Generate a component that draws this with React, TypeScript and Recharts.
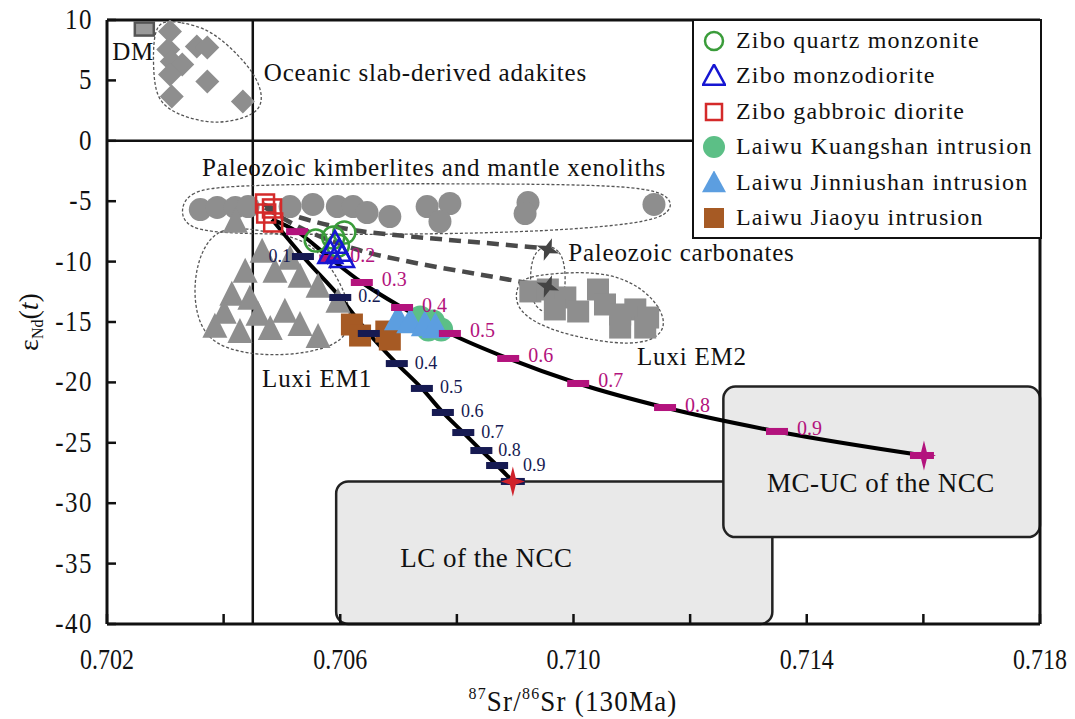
import React from 'react'
import {
  ComposedChart,
  Line,
  Scatter,
  XAxis,
  YAxis,
  ReferenceLine,
  ReferenceArea,
} from 'recharts'

const SERIF = '"Liberation Serif", "Times New Roman", Times, serif'
const NAVY = '#161a52'
const MAGENTA = '#b3137d'
const GRAY = '#8e8e8e'

// axes
const xTicks = [0.702, 0.704, 0.706, 0.708, 0.71, 0.712, 0.714, 0.716, 0.718]
const xTickLabels = ['0.702', '', '0.706', '', '0.710', '', '0.714', '', '0.718']
const yTicks = [-40, -35, -30, -25, -20, -15, -10, -5, 0, 5, 10]

// depleted mantle
const dmX = [0.70264]
const dmY = [9.25]

// oceanic slab-derived adakites
const adakiteX = [0.70308, 0.70354, 0.70372, 0.70305, 0.70311, 0.70329, 0.70308, 0.70372, 0.70311, 0.70433]
const adakiteY = [9.05, 7.81, 7.72, 7.56, 6.57, 6.32, 5.49, 4.91, 3.67, 3.25]
const adakiteEnvX = [0.70291, 0.70325, 0.70377, 0.70428, 0.70456, 0.70468, 0.70459, 0.70416, 0.70372, 0.70318, 0.70284, 0.70279, 0.7028]
const adakiteEnvY = [9.95, 9.85, 9.25, 7.0, 5.3, 3.6, 2.3, 1.6, 1.45, 2.2, 3.4, 6.15, 8.7]

// Paleozoic kimberlites and mantle xenoliths
const kimbX = [0.7036, 0.70389, 0.7042, 0.70442, 0.70514, 0.70553, 0.70595, 0.70622, 0.70646, 0.70685, 0.70749, 0.70788, 0.70771, 0.70922, 0.70917, 0.71138]
const kimbY = [-5.69, -5.52, -5.52, -5.44, -5.44, -5.27, -5.44, -5.44, -5.94, -6.27, -5.44, -5.19, -6.68, -5.11, -6.02, -5.27]
const kimbEnvX = [0.70326, 0.7034, 0.70394, 0.70617, 0.70874, 0.71114, 0.71168, 0.71168, 0.71126, 0.7096, 0.70737, 0.70531, 0.70374, 0.70334]
const kimbEnvY = [-5.69, -4.3, -3.7, -3.55, -3.55, -3.7, -4.6, -5.9, -6.8, -7.5, -7.75, -7.75, -7.65, -6.95]

// Luxi EM1
const em1X = [0.7042, 0.70466, 0.70514, 0.70437, 0.70488, 0.70531, 0.70562, 0.70596, 0.70414, 0.70445, 0.70401, 0.70459, 0.70505, 0.7048, 0.70428, 0.70531, 0.70562, 0.70385]
const em1Y = [-6.93, -9.41, -9.99, -11.07, -11.07, -11.48, -12.31, -13.55, -12.97, -13.3, -14.46, -14.63, -14.38, -15.79, -16.04, -15.46, -16.46, -15.62]
const em1EnvX = [0.70402, 0.70366, 0.70348, 0.70353, 0.70383, 0.70462, 0.70548, 0.7061, 0.7062, 0.70603, 0.70567, 0.70531, 0.70462]
const em1EnvY = [-7.05, -8.5, -11.48, -14.79, -17.0, -17.85, -17.6, -16.55, -14.38, -11.89, -9.3, -8.05, -7.4]

// Luxi EM2
const em2X = [0.70926, 0.70956, 0.70986, 0.70968, 0.71008, 0.71042, 0.71054, 0.7108, 0.71106, 0.71128, 0.7108, 0.71123]
const em2Y = [-12.47, -12.31, -12.97, -13.96, -14.13, -12.31, -13.55, -14.38, -13.96, -14.63, -15.46, -15.46]
const em2EnvX = [0.70931, 0.71046, 0.71116, 0.71156, 0.71156, 0.71102, 0.70989, 0.70923, 0.70898, 0.70905]
const em2EnvY = [-11.1, -10.7, -12.0, -14.21, -16.1, -17.05, -16.15, -14.85, -13.38, -11.65]

// Paleozoic carbonates
const carbX = [0.70956, 0.70956]
const carbY = [-9.0, -12.06]
const carbEnvX = [0.70956, 0.70977, 0.70986, 0.70986, 0.70977, 0.70956, 0.70935, 0.70926, 0.70926, 0.70935]
const carbEnvY = [-8.6, -9.1, -10.4, -12.5, -13.85, -14.35, -13.85, -12.5, -10.4, -9.1]

// mixing toward Paleozoic carbonates (dashed)
const carbMixUpX = [0.70468, 0.70531, 0.70617, 0.70703, 0.7084, 0.70955]
const carbMixUpY = [-5.27, -6.35, -7.34, -7.84, -8.42, -8.92]
const carbMixLoX = [0.70471, 0.70531, 0.70629, 0.70725, 0.7084, 0.70955]
const carbMixLoY = [-5.52, -7.18, -9.0, -10.07, -11.07, -12.06]

// mixing with LC of the NCC (start, 0.1 ... 0.9, end)
const lcMixX = [0.70483, 0.70536, 0.706, 0.70649, 0.70697, 0.7074, 0.70776, 0.70811, 0.70842, 0.70869, 0.70896]
const lcMixY = [-6.51, -9.58, -12.97, -15.95, -18.44, -20.5, -22.49, -24.15, -25.64, -26.88, -28.2]
const lcTickLabels = ['0.1', '0.2', '', '0.4', '0.5', '0.6', '0.7', '0.8', '0.9']

// mixing with MC-UC of the NCC
const mcMixX = [0.70483, 0.70526, 0.70583, 0.70637, 0.70706, 0.70788, 0.70888, 0.71008, 0.71157, 0.71349, 0.71601]
const mcMixY = [-6.51, -7.52, -9.74, -11.73, -13.8, -15.95, -18.02, -20.09, -22.08, -24.06, -26.05]
const mcTickLabels = ['', '0.2', '0.3', '0.4', '0.5', '0.6', '0.7', '0.8', '0.9']

// crustal fields
const lcBoxX = [0.70593, 0.71341]
const lcBoxY = [-40, -28.2]
const mcBoxX = [0.71257, 0.718]
const mcBoxY = [-32.8, -20.34]

// this study and Laiwu intrusions
const zqmX = [0.70558, 0.70588, 0.70607, 0.70596]
const zqmY = [-8.26, -8.01, -7.59, -8.67]
const zmdX = [0.70591, 0.70598, 0.70583, 0.70603]
const zmdY = [-8.67, -9.33, -9.5, -9.83]
const zgdX = [0.70471, 0.70483, 0.70473, 0.70485]
const zgdY = [-5.19, -5.6, -6.02, -6.76]
const kuangX = [0.70737, 0.70759, 0.70773, 0.70751]
const kuangY = [-14.63, -14.96, -15.62, -15.62]
const jinX = [0.70699, 0.7072, 0.70745, 0.70763]
const jinY = [-14.96, -15.21, -15.46, -15.62]
const jiaoX = [0.7062, 0.70634, 0.70679, 0.70685]
const jiaoY = [-15.21, -16.12, -15.79, -16.45]

// field labels (left end of baseline)
const noteText = ['DM', 'Oceanic slab-derived adakites', 'Paleozoic kimberlites and mantle xenoliths', 'Paleozoic carbonates', 'Luxi EM2', 'Luxi EM1']
const noteX = [0.70209, 0.70469, 0.70363, 0.70991, 0.71109, 0.70466]
const noteY = [6.73, 4.91, -2.95, -9.99, -18.52, -20.42]
const boxText = ['LC of the NCC', 'MC-UC of the NCC']
const boxTextX = [0.70703, 0.71332]
const boxTextY = [-35.32, -29.11]

const legendNames = [
  'Zibo quartz monzonite',
  'Zibo monzodiorite',
  'Zibo gabbroic diorite',
  'Laiwu Kuangshan intrusion',
  'Laiwu Jinniushan intrusion',
  'Laiwu Jiaoyu intrusion',
]

const pts = (xs: number[], ys: number[]) => xs.map((x, i) => ({ x, y: ys[i] }))
const ticksOf = (xs: number[], ys: number[], labels: string[]) =>
  labels.map((label, i) => ({ x: xs[i + 1], y: ys[i + 1], label, i }))
const notes = (xs: number[], ys: number[], texts: string[]) => xs.map((x, i) => ({ x, y: ys[i], text: texts[i] }))

const tri = (cx: number, cy: number, w: number, h: number) =>
  `${cx},${cy - (h * 2) / 3} ${cx + w / 2},${cy + h / 3} ${cx - w / 2},${cy + h / 3}`

const star4 = (cx: number, cy: number, rx: number, ry: number, ri: number) =>
  `${cx},${cy - ry} ${cx + ri},${cy - ri} ${cx + rx},${cy} ${cx + ri},${cy + ri} ${cx},${cy + ry} ${cx - ri},${cy + ri} ${cx - rx},${cy} ${cx - ri},${cy - ri}`

const Diamond = ({ cx, cy }: any) => (
  <polygon points={`${cx},${cy - 12} ${cx + 12},${cy} ${cx},${cy + 12} ${cx - 12},${cy}`} fill={GRAY} />
)
const GrayCircle = ({ cx, cy }: any) => <circle cx={cx} cy={cy} r={11.5} fill={GRAY} />
const GrayTri = ({ cx, cy }: any) => <polygon points={tri(cx, cy, 25, 25)} fill={GRAY} />
const GraySquare = ({ cx, cy }: any) => <rect x={cx - 11} y={cy - 11} width={22} height={22} fill={GRAY} />
const DmSquare = ({ cx, cy }: any) => (
  <rect x={cx - 9.5} y={cy - 6.5} width={19} height={13} fill="#9a9a9a" stroke="#555" strokeWidth={2.5} />
)
const CarbStar = ({ cx, cy }: any) => (
  <polygon points={star4(cx, cy, 12, 12, 3)} fill="#444" transform={`rotate(20 ${cx} ${cy})`} />
)

const NavyBar = ({ cx, cy }: any) => <rect x={cx - 11} y={cy - 3.5} width={22} height={7} fill={NAVY} />
const MagentaBar = ({ cx, cy }: any) => <rect x={cx - 11} y={cy - 3.5} width={22} height={7} fill={MAGENTA} />
const LcStar = ({ cx, cy }: any) => (
  <g>
    <rect x={cx - 12} y={cy - 3.5} width={24} height={7} fill={NAVY} />
    <polygon points={star4(cx, cy, 12, 15, 3)} fill="#d0222b" />
  </g>
)
const McStar = ({ cx, cy }: any) => (
  <g>
    <rect x={cx - 14} y={cy - 3.5} width={24} height={7} fill={MAGENTA} />
    <polygon points={star4(cx, cy, 12, 15, 3)} fill={MAGENTA} />
  </g>
)
// label offsets along the LC curve (0.1 sits left of its tick, 0.9 is pushed clear of 0.8)
const navyDx = [-12, 18, 18, 18, 18, 18, 18, 17, 26]
const NavyLabel = ({ cx, cy, payload }: any) => {
  const dx = navyDx[payload.i]
  return (
    <text x={cx + dx} y={cy + 5} textAnchor={dx < 0 ? 'end' : 'start'} fill={NAVY}
      fontFamily={SERIF} fontSize={18}>
      {payload.label}
    </text>
  )
}
const MagentaLabel = ({ cx, cy, payload }: any) => (
  <text x={cx + 20} y={cy + 4} fill={MAGENTA} fontFamily={SERIF} fontSize={20}>
    {payload.label}
  </text>
)

const GreenRing = ({ cx, cy }: any) => <circle cx={cx} cy={cy} r={11} fill="none" stroke="#3a9c3a" strokeWidth={2.5} />
const BlueTri = ({ cx, cy }: any) => (
  <polygon points={tri(cx, cy, 24, 22)} fill="none" stroke="#1616d2" strokeWidth={2.5} />
)
const RedSquare = ({ cx, cy }: any) => (
  <rect x={cx - 9} y={cy - 9} width={18} height={18} fill="none" stroke="#d42a2a" strokeWidth={2.5} />
)
const KuangDot = ({ cx, cy }: any) => <circle cx={cx} cy={cy} r={12} fill="#5cbf86" />
const JinTri = ({ cx, cy }: any) => <polygon points={tri(cx, cy, 28, 26)} fill="#5c9ee0" />
const JiaoSquare = ({ cx, cy }: any) => <rect x={cx - 11} y={cy - 11} width={22} height={22} fill="#a65a24" />

const NoteText = ({ cx, cy, payload }: any) => (
  <text x={cx} y={cy} fontFamily={SERIF} fontSize={25} letterSpacing={0.8} fill="#111">
    {payload.text}
  </text>
)
const BoxText = ({ cx, cy, payload }: any) => (
  <text x={cx} y={cy} fontFamily={SERIF} fontSize={27} letterSpacing={0.5} fill="#111">
    {payload.text}
  </text>
)

const CrustBox = ({ x, y, width, height }: any) => (
  <rect x={x} y={y} width={width} height={height} rx={12} ry={12} fill="#e9e9e9" stroke="#222" strokeWidth={2.5} />
)

// tick labels in the source figure are slightly taller than wide
const XTick = ({ x, y, index }: any) => (
  <g>
    <line x1={x} x2={x} y1={y} y2={y - 10} stroke="#111" strokeWidth={2.5} />
    {xTickLabels[index] && (
      <text transform={`translate(${x} ${y + 45}) scale(1 1.2)`} textAnchor="middle" fontFamily={SERIF}
        fontSize={24} fill="#111">
        {xTickLabels[index]}
      </text>
    )}
  </g>
)
const YTick = ({ x, y, payload }: any) => (
  <g>
    <line x1={x} x2={x + 9} y1={y} y2={y} stroke="#111" strokeWidth={2.5} />
    <text transform={`translate(${x - 14} ${y + 9}) scale(1 1.15)`} textAnchor="end" fontFamily={SERIF}
      fontSize={25} letterSpacing={1.5} fill="#111">
      {payload.value}
    </text>
  </g>
)

const legendSymbols = [
  <circle cx={12} cy={12} r={9} fill="none" stroke="#3a9c3a" strokeWidth={2.5} />,
  <polygon points={tri(12, 14, 22, 20)} fill="none" stroke="#1616d2" strokeWidth={2.5} />,
  <rect x={4} y={4} width={16} height={16} fill="none" stroke="#d42a2a" strokeWidth={2.5} />,
  <circle cx={12} cy={12} r={11} fill="#5cbf86" />,
  <polygon points={tri(12, 14, 24, 22)} fill="#5c9ee0" />,
  <rect x={2} y={2} width={20} height={20} fill="#a65a24" />,
]

function LegendBox() {
  return (
    <div
      style={{
        position: 'absolute',
        left: 692,
        top: 19,
        width: 346,
        height: 216,
        border: '2.5px solid #111',
        background: '#fff',
        fontFamily: SERIF,
        fontSize: 24,
        letterSpacing: 1.2,
        color: '#111',
      }}
    >
      {legendNames.map((name, i) => (
        <div key={name} style={{ position: 'absolute', left: 0, top: 2 + i * 35.4, height: 35, width: 346 }}>
          <svg width={24} height={24} style={{ position: 'absolute', left: 8, top: 6 }}>
            {legendSymbols[i]}
          </svg>
          <span style={{ position: 'absolute', left: 42, top: 0, lineHeight: '35px', whiteSpace: 'nowrap' }}>{name}</span>
        </div>
      ))}
    </div>
  )
}

function Titles() {
  return (
    <svg width={1075} height={719} style={{ position: 'absolute', left: 0, top: 0, pointerEvents: 'none' }}>
      <text transform="translate(573 711) scale(1 1.1)" textAnchor="middle" fontFamily={SERIF} fontSize={27}
        letterSpacing={1.2} fill="#111">
        <tspan fontSize={16} dy={-11}>87</tspan>
        <tspan dy={11}>Sr/</tspan>
        <tspan fontSize={16} dy={-11}>86</tspan>
        <tspan dy={11}>Sr (130Ma)</tspan>
      </text>
      <text transform="translate(38 322) rotate(-90)" textAnchor="middle" fontFamily={SERIF} fontSize={28} fill="#111">
        <tspan>ε</tspan>
        <tspan fontSize={16} dy={5}>Nd</tspan>
        <tspan dy={-5}>(</tspan>
        <tspan fontStyle="italic">t</tspan>
        <tspan>)</tspan>
      </text>
    </svg>
  )
}

export default function App() {
  const na = { isAnimationActive: false }
  return (
    <div style={{ position: 'absolute', left: 0, top: 0, width: 1075, height: 719, background: '#fff' }}>
      <ComposedChart width={1075} height={719} margin={{ top: 20, right: 35, bottom: 0, left: 0 }}>
        <XAxis
          type="number"
          dataKey="x"
          domain={[0.702, 0.718]}
          ticks={xTicks}
          allowDataOverflow
          height={95}
          tickSize={0}
          tickMargin={0}
          tick={<XTick />}
          axisLine={{ stroke: '#111', strokeWidth: 3 }}
          interval={0}
        />
        <YAxis
          type="number"
          dataKey="y"
          domain={[-40, 10]}
          ticks={yTicks}
          allowDataOverflow
          width={107}
          tickSize={0}
          tickMargin={0}
          tick={<YTick />}
          axisLine={{ stroke: '#111', strokeWidth: 3 }}
          interval={0}
        />

        <ReferenceArea x1={lcBoxX[0]} x2={lcBoxX[1]} y1={lcBoxY[0]} y2={lcBoxY[1]} shape={<CrustBox />} ifOverflow="visible" />
        <ReferenceArea x1={mcBoxX[0]} x2={mcBoxX[1]} y1={mcBoxY[0]} y2={mcBoxY[1]} shape={<CrustBox />} ifOverflow="visible" />

        <ReferenceLine x={0.7045} stroke="#111" strokeWidth={2.5} />
        <ReferenceLine y={0} stroke="#111" strokeWidth={2.5} />
        <ReferenceLine y={10} stroke="#111" strokeWidth={3} />
        <ReferenceLine x={0.718} stroke="#111" strokeWidth={3} />

        {[
          [adakiteEnvX, adakiteEnvY],
          [kimbEnvX, kimbEnvY],
          [em1EnvX, em1EnvY],
          [em2EnvX, em2EnvY],
          [carbEnvX, carbEnvY],
        ].map(([xs, ys], i) => (
          <Line key={'env' + i} data={pts(xs, ys)} dataKey="y" type="basisClosed" stroke="#555"
            strokeWidth={1.3} strokeDasharray="3 2" dot={false} {...na} />
        ))}

        <Scatter data={pts(adakiteX, adakiteY)} shape={<Diamond />} {...na} />
        <Scatter data={pts(dmX, dmY)} shape={<DmSquare />} {...na} />
        <Scatter data={pts(kimbX, kimbY)} shape={<GrayCircle />} {...na} />
        <Scatter data={pts(em1X, em1Y)} shape={<GrayTri />} {...na} />
        <Scatter data={pts(em2X, em2Y)} shape={<GraySquare />} {...na} />

        <Scatter data={pts(jiaoX, jiaoY)} shape={<JiaoSquare />} {...na} />
        <Scatter data={pts(kuangX, kuangY)} shape={<KuangDot />} {...na} />
        <Scatter data={pts(jinX, jinY)} shape={<JinTri />} {...na} />

        <Line data={pts(carbMixUpX, carbMixUpY)} dataKey="y" type="monotone" stroke="#4a4a4a" strokeWidth={4.5}
          strokeDasharray="12 7" dot={false} {...na} />
        <Line data={pts(carbMixLoX, carbMixLoY)} dataKey="y" type="monotone" stroke="#4a4a4a" strokeWidth={4.5}
          strokeDasharray="12 7" dot={false} {...na} />
        <Scatter data={pts(carbX, carbY)} shape={<CarbStar />} {...na} />

        <Line data={pts(lcMixX, lcMixY)} dataKey="y" type="monotone" stroke="#000" strokeWidth={4} dot={false} {...na} />
        <Line data={pts(mcMixX, mcMixY)} dataKey="y" type="monotone" stroke="#000" strokeWidth={4} dot={false} {...na} />

        <Scatter data={ticksOf(lcMixX, lcMixY, lcTickLabels)} shape={<NavyBar />} {...na} />
        <Scatter data={ticksOf(mcMixX, mcMixY, mcTickLabels)} shape={<MagentaBar />} {...na} />
        <Scatter data={ticksOf(lcMixX, lcMixY, lcTickLabels)} shape={<NavyLabel />} {...na} />
        <Scatter data={ticksOf(mcMixX, mcMixY, mcTickLabels)} shape={<MagentaLabel />} {...na} />
        <Scatter data={pts(lcMixX.slice(-1), lcMixY.slice(-1))} shape={<LcStar />} {...na} />
        <Scatter data={pts(mcMixX.slice(-1), mcMixY.slice(-1))} shape={<McStar />} {...na} />

        <Scatter data={pts(zgdX, zgdY)} shape={<RedSquare />} {...na} />
        <Scatter data={pts(zqmX, zqmY)} shape={<GreenRing />} {...na} />
        <Scatter data={pts(zmdX, zmdY)} shape={<BlueTri />} {...na} />

        <Scatter data={notes(noteX, noteY, noteText)} shape={<NoteText />} {...na} />
        <Scatter data={notes(boxTextX, boxTextY, boxText)} shape={<BoxText />} {...na} />
      </ComposedChart>
      <Titles />
      <LegendBox />
    </div>
  )
}
